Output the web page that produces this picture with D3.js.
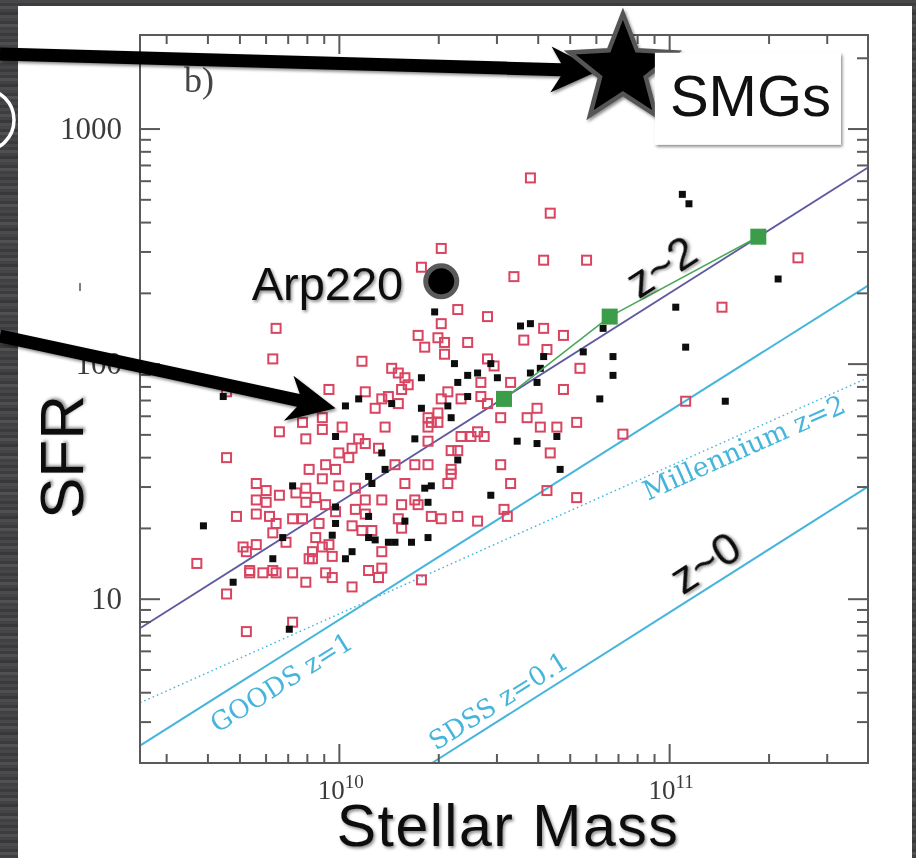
<!DOCTYPE html>
<html>
<head>
<meta charset="utf-8">
<script src="https://cdn.jsdelivr.net/npm/d3@7"></script>
<style>
  html, body { margin: 0; padding: 0; background: #434345; }
  svg { display: block; }
</style>
</head>
<body>
<svg id="chart" width="916" height="858"></svg>
<script>
// ---- Data: log10(stellar mass / Msun), log10(SFR / Msun yr^-1) ----
const blackGalaxies = [
  [10.29,2.22],[10.55,2.16],[10.58,2.17],[10.35,2.00],[10.25,1.94],[10.06,1.85],[10.02,1.82],
  [10.16,1.83],[10.25,1.81],[10.36,1.92],[10.33,1.82],[10.34,1.77],[10.39,1.95],[10.42,1.96],
  [10.46,2.00],[10.48,1.94],[10.39,1.86],[10.62,2.03],[10.61,1.98],[10.58,1.96],[10.60,1.92],
  [10.74,2.05],[10.83,2.03],[10.83,1.95],[10.79,1.85],[9.99,1.69],[10.23,1.68],[10.13,1.62],
  [10.14,1.55],[10.36,1.59],[10.54,1.67],[10.60,1.66],[10.66,1.69],[10.67,1.55],[10.09,1.52],
  [10.10,1.49],[9.99,1.39],[10.26,1.47],[10.28,1.48],[10.27,1.41],[10.46,1.44],[9.99,1.32],
  [10.09,1.35],[10.20,1.33],[9.98,1.27],[10.09,1.26],[10.11,1.25],[10.15,1.24],[10.17,1.24],
  [10.22,1.24],[10.27,1.26],[10.04,1.20],[10.02,1.17],[9.86,1.48],[9.83,1.26],[9.59,1.31],
  [9.80,1.17],[9.68,1.07],[9.85,0.87],[9.65,1.86],[11.06,2.68],[11.04,2.72],[11.33,2.36],
  [11.02,2.24],[10.80,2.15],[11.05,2.07],[11.17,1.84]
];

const redGalaxies = [
  [10.58,2.79],[10.64,2.64],[10.31,2.49],[10.25,2.41],[10.62,2.44],[10.75,2.44],[10.53,2.37],
  [10.36,2.23],[10.31,2.17],[9.81,2.15],[9.80,2.02],[9.66,1.88],[10.45,2.20],[10.24,2.12],
  [10.26,2.07],[10.30,2.11],[10.32,2.09],[10.32,2.04],[10.39,2.09],[10.62,2.15],[10.68,2.12],
  [10.56,2.10],[10.63,2.06],[10.07,2.01],[10.16,1.98],[10.18,1.96],[10.20,1.94],[10.21,1.91],
  [10.19,1.89],[10.08,1.88],[9.97,1.89],[10.13,1.85],[10.11,1.81],[10.15,1.86],[10.18,1.83],
  [10.45,2.02],[10.47,1.99],[10.33,1.88],[10.31,1.85],[10.37,1.85],[10.43,1.86],[10.45,1.83],
  [10.43,1.92],[10.52,1.92],[10.68,1.89],[10.73,1.98],[10.60,1.81],[10.57,1.77],[10.49,1.77],
  [10.61,1.73],[10.66,1.73],[10.72,1.75],[10.64,1.62],[10.49,1.57],[10.52,1.49],[10.63,1.46],
  [10.72,1.43],[10.50,1.38],[10.51,1.35],[9.95,1.77],[9.89,1.75],[9.95,1.72],[9.90,1.68],
  [10.01,1.73],[10.14,1.73],[10.27,1.77],[10.28,1.75],[10.27,1.73],[10.30,1.79],[10.30,1.75],
  [10.06,1.68],[10.08,1.66],[10.04,1.64],[10.00,1.62],[10.03,1.60],[10.12,1.64],[10.17,1.57],
  [10.23,1.57],[10.27,1.57],[10.27,1.67],[10.34,1.63],[10.36,1.63],[10.37,1.69],[10.42,1.71],
  [10.44,1.69],[10.40,1.69],[10.34,1.55],[10.34,1.53],[10.33,1.49],[9.96,1.57],[9.99,1.55],
  [9.91,1.55],[9.95,1.51],[9.90,1.47],[10.00,1.48],[10.05,1.47],[10.20,1.49],[10.13,1.42],
  [10.08,1.42],[9.93,1.43],[9.90,1.41],[9.96,1.40],[10.19,1.40],[10.23,1.42],[10.24,1.40],
  [10.05,1.38],[10.08,1.36],[10.18,1.34],[10.28,1.35],[10.31,1.34],[10.36,1.35],[10.42,1.33],
  [9.89,1.34],[9.94,1.32],[10.04,1.31],[10.19,1.30],[10.07,1.29],[10.10,1.29],[9.93,1.26],
  [9.95,1.22],[9.97,1.23],[9.92,1.20],[9.98,1.18],[10.13,1.20],[9.91,1.17],[9.96,1.11],
  [9.98,1.09],[10.09,1.12],[10.13,1.13],[10.12,1.09],[9.90,1.07],[10.04,1.05],[10.25,1.08],
  [9.99,1.37],[9.82,1.71],[9.66,1.60],[9.75,1.49],[9.78,1.46],[9.82,1.44],[9.87,1.45],
  [9.75,1.42],[9.78,1.41],[9.75,1.36],[9.79,1.35],[9.69,1.35],[9.86,1.34],[9.81,1.32],
  [9.80,1.28],[9.84,1.24],[9.75,1.23],[9.71,1.22],[9.72,1.20],[9.57,1.15],[9.73,1.12],
  [9.73,1.11],[9.77,1.11],[9.80,1.12],[9.81,1.11],[9.86,1.11],[9.66,1.02],[9.86,0.90],
  [9.72,0.86],[9.92,1.17],[11.16,2.24],[11.05,1.84],[10.86,1.70],[11.39,2.45]
];

// binned means at z~2
const binnedMeans = [[10.50,1.85],[10.82,2.20],[11.27,2.54]];

// relations (end points in log M, log SFR)
const mainSequenceZ2 = [[9.398,0.874],[11.602,2.834]];
const goodsZ1        = [[9.398,0.375],[11.602,2.332]];
const sdssZ01        = [[10.282,0.301],[11.602,1.477]];
const millenniumZ2   = [[9.398,0.557],[11.602,1.940]];

// highlighted objects
const smgs   = [10.86, 3.25];
const arp220 = [10.31, 2.35];

// axes
const massDomain = [2.5e9, 4e11];
const sfrDomain  = [2, 2500];
const massMajorTicks = [1e10, 1e11];
const massExponents  = ["10", "11"];
const sfrMajorTicks  = [10, 100, 1000];

// ---- Layout ----
const W = 916, H = 858;
const plot = { left: 140, right: 868, top: 35, bottom: 763 };

const svg = d3.select("#chart");
const defs = svg.append("defs");

// brushed dark backdrop
const shades = ["#48484a","#3d3d3f","#4f4f51","#424244","#38383a","#4b4b4d",
                "#454547","#3b3b3d","#515153","#404042","#464648","#3a3a3c"];
const pat = defs.append("pattern").attr("id", "brushed")
  .attr("patternUnits", "userSpaceOnUse").attr("width", W).attr("height", shades.length * 3);
shades.forEach((c, i) => pat.append("rect").attr("x", 0).attr("y", i * 3)
  .attr("width", W).attr("height", 3).attr("fill", c));

const shadow = defs.append("filter").attr("id", "shadow")
  .attr("x", "-20%").attr("y", "-20%").attr("width", "140%").attr("height", "140%");
shadow.append("feDropShadow").attr("dx", 1.5).attr("dy", 2).attr("stdDeviation", 1.5)
  .attr("flood-color", "#000").attr("flood-opacity", 0.45);

const soft = defs.append("filter").attr("id", "soft");
soft.append("feGaussianBlur").attr("stdDeviation", 0.45);

defs.append("clipPath").attr("id", "plotClip").append("rect")
  .attr("x", plot.left).attr("y", plot.top)
  .attr("width", plot.right - plot.left).attr("height", plot.bottom - plot.top);

svg.append("rect").attr("width", W).attr("height", H).attr("fill", "url(#brushed)");
svg.append("rect").attr("x", 18).attr("y", 6).attr("width", 894).attr("height", H - 6)
  .attr("fill", "#ffffff");

// white ring peeking in from the left edge
svg.append("circle").attr("cx", -17).attr("cy", 120).attr("r", 31)
  .attr("fill", "none").attr("stroke", "#ffffff").attr("stroke-width", 3.5);

// ---- Scales ----
const x = d3.scaleLog().domain(massDomain).range([plot.left, plot.right]);
const y = d3.scaleLog().domain(sfrDomain).range([plot.bottom, plot.top]);
const px = d => x(Math.pow(10, d[0]));
const py = d => y(Math.pow(10, d[1]));

// ---- Relations ----
const lines = svg.append("g").attr("clip-path", "url(#plotClip)").attr("filter", "url(#soft)");
const lineGen = d3.line().x(px).y(py);

lines.append("path").datum(millenniumZ2).attr("d", lineGen)
  .attr("fill", "none").attr("stroke", "#45b5dc").attr("stroke-width", 1.4)
  .attr("stroke-dasharray", "1.6,3");
[goodsZ1, sdssZ01].forEach(l => lines.append("path").datum(l).attr("d", lineGen)
  .attr("fill", "none").attr("stroke", "#45b5dc").attr("stroke-width", 2));
lines.append("path").datum(mainSequenceZ2).attr("d", lineGen)
  .attr("fill", "none").attr("stroke", "#5f5aa0").attr("stroke-width", 1.8);

function lineLabel(line, logM, text, offset, size) {
  const [a, b] = line;
  const ang = Math.atan2(py(b) - py(a), px(b) - px(a)) * 180 / Math.PI;
  const t = (logM - a[0]) / (b[0] - a[0]);
  const p = [logM, a[1] + t * (b[1] - a[1])];
  lines.append("text")
    .attr("transform", `translate(${px(p)},${py(p)}) rotate(${ang})`)
    .attr("y", offset)
    .attr("text-anchor", "middle").attr("dominant-baseline", "central")
    .attr("font-family", "DejaVu Serif").attr("font-size", size)
    .attr("fill", "#45b5dc").text(text);
}
lineLabel(goodsZ1, 9.79, "GOODS z=1", 22, 26);
lineLabel(sdssZ01, 10.51, "SDSS z=0.1", -17, 26);
lineLabel(millenniumZ2, 11.21, "Millennium z=2", 13, 27);

// ---- Galaxies ----
const pts = svg.append("g").attr("clip-path", "url(#plotClip)").attr("filter", "url(#soft)");
pts.selectAll("rect.red").data(redGalaxies).join("rect").attr("class", "red")
  .attr("x", d => px(d) - 4.5).attr("y", d => py(d) - 4.5)
  .attr("width", 9).attr("height", 9)
  .attr("fill", "none").attr("stroke", "#d94560").attr("stroke-width", 2);
pts.selectAll("rect.black").data(blackGalaxies).join("rect").attr("class", "black")
  .attr("x", d => px(d) - 3.5).attr("y", d => py(d) - 3.5)
  .attr("width", 7).attr("height", 7).attr("fill", "#111");

pts.append("path").datum(binnedMeans).attr("d", lineGen)
  .attr("fill", "none").attr("stroke", "#4aa85a").attr("stroke-width", 1.6);
pts.selectAll("rect.bin").data(binnedMeans).join("rect").attr("class", "bin")
  .attr("x", d => px(d) - 8).attr("y", d => py(d) - 8)
  .attr("width", 16).attr("height", 16).attr("fill", "#3a9c48");

// ---- Frame and ticks ----
const axisColor = "#5a5a5a";
function minorTicks(domain) {
  const out = [];
  for (let e = Math.floor(Math.log10(domain[0])); e <= Math.ceil(Math.log10(domain[1])); e++) {
    for (let m = 2; m <= 9; m++) {
      const v = m * Math.pow(10, e);
      if (v > domain[0] * 1.001 && v < domain[1] * 0.999) out.push(v);
    }
  }
  return out;
}
const axes = svg.append("g").attr("filter", "url(#soft)");
function drawTicks(axisFn, scale, values, len, transform) {
  const g = axes.append("g").attr("transform", transform)
    .call(axisFn(scale).tickValues(values).tickSizeInner(-len).tickSizeOuter(0).tickFormat(""));
  g.select(".domain").remove();
  g.selectAll(".tick line").attr("stroke", axisColor).attr("stroke-width", 2);
  g.selectAll(".tick text").remove();
}
const xMin = minorTicks(massDomain), yMin = minorTicks(sfrDomain);
drawTicks(d3.axisBottom, x, xMin, 9, `translate(0,${plot.bottom})`);
drawTicks(d3.axisTop, x, xMin, 9, `translate(0,${plot.top})`);
drawTicks(d3.axisBottom, x, massMajorTicks, 19, `translate(0,${plot.bottom})`);
drawTicks(d3.axisTop, x, massMajorTicks, 19, `translate(0,${plot.top})`);
drawTicks(d3.axisLeft, y, yMin, 11, `translate(${plot.left},0)`);
drawTicks(d3.axisRight, y, yMin, 11, `translate(${plot.right},0)`);
drawTicks(d3.axisLeft, y, sfrMajorTicks, 20, `translate(${plot.left},0)`);
drawTicks(d3.axisRight, y, sfrMajorTicks, 20, `translate(${plot.right},0)`);

axes.append("rect").attr("x", plot.left).attr("y", plot.top)
  .attr("width", plot.right - plot.left).attr("height", plot.bottom - plot.top)
  .attr("fill", "none").attr("stroke", axisColor).attr("stroke-width", 2);

// y tick labels
const yLab = axes.append("g").attr("transform", `translate(${plot.left},0)`)
  .call(d3.axisLeft(y).tickValues(sfrMajorTicks).tickSize(0).tickPadding(18)
    .tickFormat(d3.format("d")));
yLab.select(".domain").remove();
yLab.selectAll("text").attr("font-family", "Liberation Serif").attr("font-size", 31)
  .attr("fill", "#3a3a3a");

// x tick labels 10^10, 10^11
massMajorTicks.forEach((v, i) => {
  const t = axes.append("text").attr("x", x(v) + 2).attr("y", plot.bottom + 36)
    .attr("text-anchor", "middle").attr("font-family", "Liberation Serif")
    .attr("fill", "#3a3a3a");
  t.append("tspan").attr("font-size", 27).text("10");
  t.append("tspan").attr("font-size", 19).attr("dy", -11).text(massExponents[i]);
});

axes.append("text").attr("x", 184).attr("y", 92)
  .attr("font-family", "Liberation Serif").attr("font-size", 36).attr("fill", "#444").text("b)");

// small stray mark left of the axis
svg.append("line").attr("x1", 80).attr("x2", 80).attr("y1", 283).attr("y2", 291)
  .attr("stroke", "#555").attr("stroke-width", 1.5);

// ---- Annotations ----
const ann = svg.append("g");
const sans = "Liberation Sans, Arial, Helvetica, sans-serif";

// Arp220
const ax = px(arp220), ay = py(arp220);
ann.append("circle").attr("cx", ax).attr("cy", ay).attr("r", 15.5)
  .attr("fill", "#000").attr("stroke", "#5a5a5a").attr("stroke-width", 5);
ann.append("text").attr("x", ax - 38).attr("y", ay + 19).attr("text-anchor", "end")
  .attr("font-family", sans).attr("font-size", 47).attr("fill", "#111")
  .attr("filter", "url(#shadow)").text("Arp220");

// redshift tags
ann.append("text").attr("transform", "translate(661,266) rotate(-33)")
  .attr("text-anchor", "middle").attr("dominant-baseline", "central")
  .attr("font-family", sans).attr("font-size", 45).attr("fill", "#111")
  .attr("filter", "url(#shadow)").text("z~2");
ann.append("text").attr("transform", "translate(705,562) rotate(-33)")
  .attr("text-anchor", "middle").attr("dominant-baseline", "central")
  .attr("font-family", sans).attr("font-size", 45).attr("fill", "#111")
  .attr("filter", "url(#shadow)").text("z~0");

// arrows
function arrow(x0, y0, x1, y1) {
  const dx = x1 - x0, dy = y1 - y0, len = Math.hypot(dx, dy);
  const ux = dx / len, uy = dy / len, vx = -uy, vy = ux;
  const w = 6.5, L = 48, hw = 23, notch = 10;
  const loc = [[0, -w], [len - L + notch, -w], [len - L, -hw], [len, 0],
               [len - L, hw], [len - L + notch, w], [0, w]];
  return "M" + loc.map(([a, b]) => [x0 + a * ux + b * vx, y0 + a * uy + b * vy].join(",")).join("L") + "Z";
}
const sx = px(smgs), sy = py(smgs);
ann.append("path").attr("d", arrow(0, 54, sx - 24, sy + 1)).attr("fill", "#000")
  .attr("filter", "url(#shadow)");
ann.append("path").attr("d", arrow(0, 336, px([9.99, 1.81]), py([9.99, 1.81])))
  .attr("fill", "#000").attr("filter", "url(#shadow)");

// SMG star
const R = 56, r = 24;
const starPts = d3.range(10).map(i => {
  const a = -Math.PI / 2 + i * Math.PI / 5, rad = i % 2 ? r : R;
  return [sx + rad * Math.cos(a), sy + rad * Math.sin(a)];
});
ann.append("path").attr("d", "M" + starPts.map(p => p.join(",")).join("L") + "Z")
  .attr("fill", "#000").attr("stroke", "#555").attr("stroke-width", 4.5)
  .attr("stroke-linejoin", "miter").attr("filter", "url(#shadow)");

ann.append("rect").attr("x", sx + 32).attr("y", sy - 17).attr("width", 186).attr("height", 92)
  .attr("fill", "#fff").attr("filter", "url(#shadow)");
ann.append("text").attr("x", sx + 47).attr("y", sy + 46)
  .attr("font-family", sans).attr("font-size", 58).attr("fill", "#111").text("SMGs");

// axis titles
ann.append("text").attr("transform", "translate(83,457) rotate(-90)")
  .attr("text-anchor", "middle").attr("font-family", sans).attr("font-size", 62)
  .attr("fill", "#111").attr("filter", "url(#shadow)").text("SFR");
ann.append("text").attr("x", 508).attr("y", 846).attr("text-anchor", "middle")
  .attr("font-family", sans).attr("font-size", 59).attr("letter-spacing", 1.5)
  .attr("fill", "#111").attr("filter", "url(#shadow)").text("Stellar Mass");
</script>
</body>
</html>
